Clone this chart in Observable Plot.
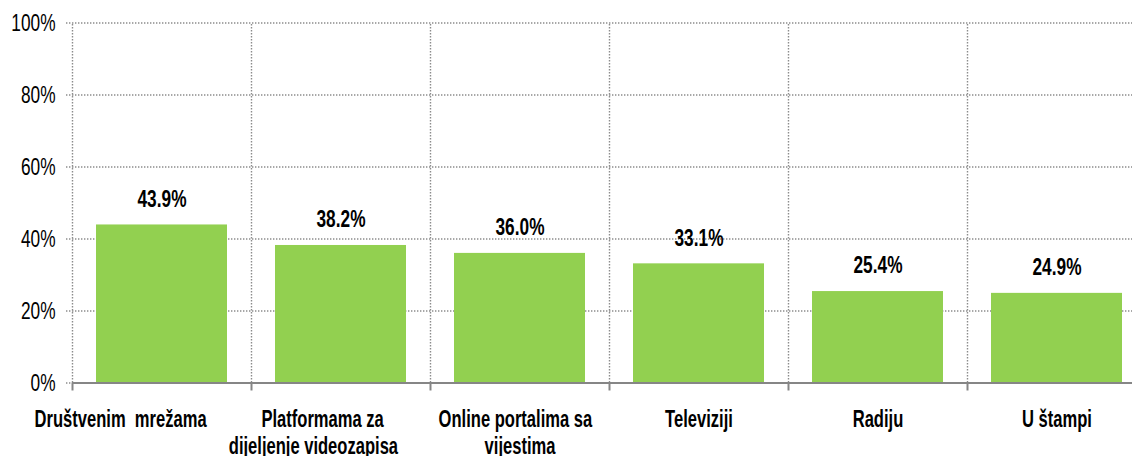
<!DOCTYPE html>
<html><head><meta charset="utf-8">
<script src="https://cdn.jsdelivr.net/npm/d3@7"></script>
<script src="https://cdn.jsdelivr.net/npm/@observablehq/plot@0.6"></script>
<style>
body{margin:0;background:#fff;overflow:hidden}
</style></head><body><div id="chart"></div>
<script>
const categories = ["Društvenim  mrežama","Platformama za dijeljenje videozapisa","Online portalima sa vijestima","Televiziji","Radiju","U štampi"];
const values = [43.9, 38.2, 36.0, 33.1, 25.4, 24.9];
const yTicks = [0, 20, 40, 60, 80, 100];
const yTickLabels = ["0%", "20%", "40%", "60%", "80%", "100%"];
// x tick labels as laid out in the original (wrapped lines, trailing blanks kept)
const NB = "\u00a0";
const xTickLabels = [
  "Društvenim  mrežama" + NB.repeat(18),
  "Platformama za" + NB.repeat(8) + "\n" + "dijeljenje videozapisa" + NB.repeat(12),
  "Online portalima sa" + NB.repeat(2) + "\n" + "vijestima",
  "Televiziji",
  "Radiju",
  "U štampi"
];

const data = categories.map((c, i) => ({category: c, value: values[i]}));

const W = 1132, H = 456, mL = 72, mR = -14, mT = 22.5, mB = 73.5;
const step = (W - mL - mR) / categories.length;
const grid = "#8c8c8c";
const axisCol = "#868686";
const narrow = 0.72; // horizontal condensing to mimic Arial Narrow

const chart = Plot.plot({
  width: W, height: H,
  marginLeft: mL, marginRight: mR, marginTop: mT, marginBottom: mB,
  style: {fontFamily: "'Liberation Sans',Arial,sans-serif", color: "#000", background: "#fff"},
  x: {type: "band", domain: categories, paddingInner: 0.27, paddingOuter: 0.135, label: null},
  y: {domain: [0, 100], label: null},
  marks: [
    Plot.ruleY(yTicks, {y: d => d, stroke: grid, strokeWidth: 1.4, strokeDasharray: "1.4,1.6", insetLeft: -6}),
    Plot.ruleX(categories, {x: d => d, dx: -step / 2, y1: 0, y2: 100, stroke: grid, strokeWidth: 1.4, strokeDasharray: "1.4,1.6"}),
    Plot.barY(data, {x: "category", y: "value", fill: "#92d050"}),
    Plot.ruleY([0], {y: d => d, stroke: axisCol, strokeWidth: 2}),
    Plot.ruleX(categories, {x: d => d, dx: -step / 2, y1: 0, y2: 0, insetBottom: -8, stroke: axisCol, strokeWidth: 2}),
    Plot.text(data, {x: "category", y: "value", text: d => d.value.toFixed(1) + "%", dy: -26, fontSize: 24, fontWeight: "bold", fill: "#000"}),
    Plot.axisY({ticks: yTicks, tickFormat: d => yTickLabels[yTicks.indexOf(d)], tickSize: 0, tickPadding: 17, fontSize: 24, fill: "#000"}),
    Plot.axisX({tickSize: 0, tickPadding: 24, tickFormat: d => xTickLabels[categories.indexOf(d)], fontSize: 23, fontWeight: "bold", lineHeight: 1.2, fill: "#000"})
  ]
});
chart.querySelectorAll("text").forEach(t => {
  const tr = t.getAttribute("transform");
  if (tr) {
    t.setAttribute("transform", tr + ` scale(${narrow},1)`);
  } else {
    const x = +(t.getAttribute("x") || 0);
    t.setAttribute("transform", `translate(${x},0) scale(${narrow},1) translate(${-x},0)`);
  }
});
document.getElementById("chart").appendChild(chart);
</script>
</body></html>
